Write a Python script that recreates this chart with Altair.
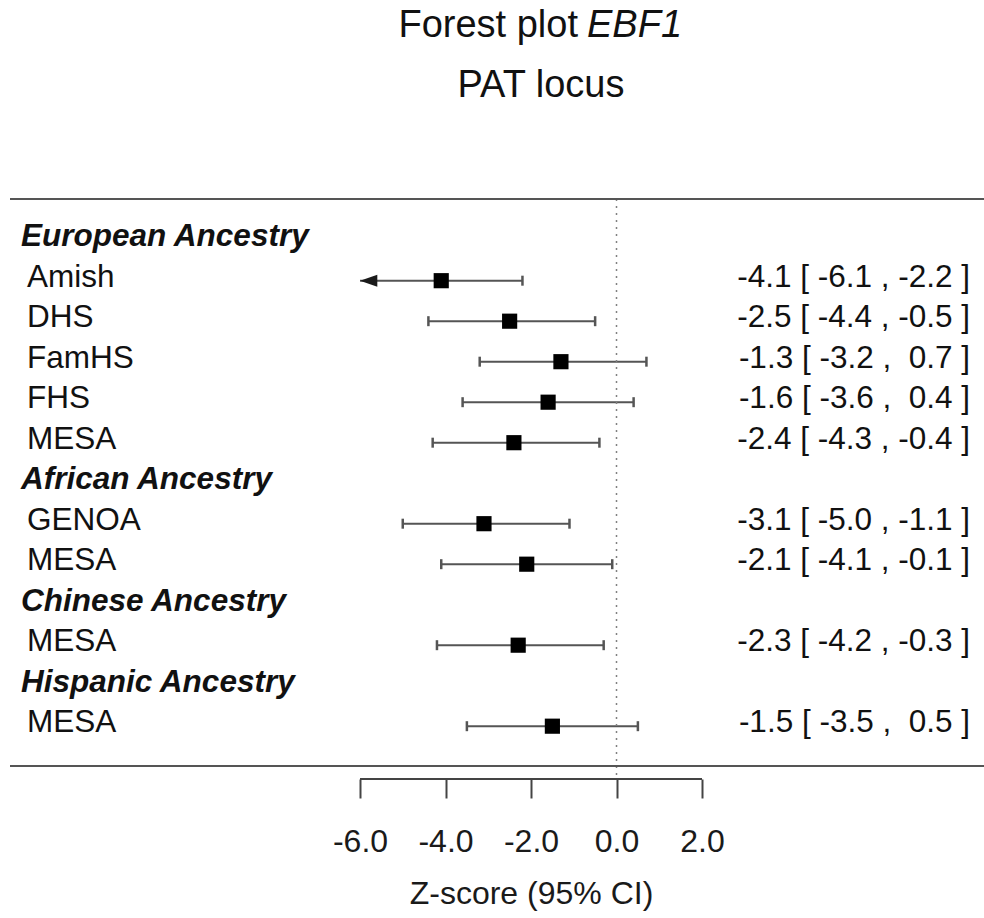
import altair as alt
import pandas as pd

# ---- data -------------------------------------------------------------
labels = ["European Ancestry", "Amish", "DHS", "FamHS", "FHS", "MESA",
          "African Ancestry", "GENOA", "MESA",
          "Chinese Ancestry", "MESA",
          "Hispanic Ancestry", "MESA"]
is_header = [True, False, False, False, False, False,
             True, False, False,
             True, False,
             True, False]
est = [None, -4.1, -2.5, -1.3, -1.6, -2.4, None, -3.1, -2.1, None, -2.3, None, -1.5]
lo = [None, -6.1, -4.4, -3.2, -3.6, -4.3, None, -5.0, -4.1, None, -4.2, None, -3.5]
hi = [None, -2.2, -0.5, 0.7, 0.4, -0.4, None, -1.1, -0.1, None, -0.3, None, 0.5]

tick_values = [-6, -4, -2, 0, 2]
x_title = "Z-score (95% CI)"
title_main = "Forest plot"
title_gene = "EBF1"
subtitle = "PAT locus"
clip_low = -6  # left limit of the drawn interval range

# ---- tables -----------------------------------------------------------
df = pd.DataFrame({"row": list(range(len(labels))), "label": labels,
                   "header": is_header, "est": est, "lo": lo, "hi": hi})
heads = df[df["header"]].copy()
studies = df[~df["header"]].copy()


def fmt(v):
    s = f"{v:4.1f}"
    return s.replace(" ", "\u00a0")


studies["ci_text"] = [f"{e:.1f} [ {fmt(l)} , {fmt(h)} ]"
                      for e, l, h in zip(studies["est"], studies["lo"], studies["hi"])]
one = pd.DataFrame({"k": [0]})
zero_df = pd.DataFrame({"x": [0]})
axis_span = pd.DataFrame({"a": [min(tick_values)], "b": [max(tick_values)]})

# ---- scales / axis ----------------------------------------------------
FONT = "Liberation Sans"
W, H = 974, 567
LINE = "#555555"
TEXT = "#111111"
x_scale = alt.Scale(domain=[-14.187, 8.596], nice=False, zero=False)
y_scale = alt.Scale(domain=[-1.017, 12.983], nice=False, zero=False, reverse=True)

x_axis = alt.Axis(values=tick_values, grid=False, domain=False,
                  labelExpr="replace(format(datum.value, '.1f'), '\u2212', '-')",
                  tickSize=19, tickWidth=2, tickColor="#444444", offset=13,
                  labelPadding=43, labelBaseline="middle", labelFont=FONT,
                  labelFontSize=32, labelColor="#1a1a1a",
                  title=x_title, titleFont=FONT, titleFontSize=32,
                  titleFontWeight="normal", titleColor="#1a1a1a",
                  titleX=521, titleY=114, titleBaseline="middle", titleAlign="center",
                  titleAnchor="start")


def X(field):
    return alt.X(field, type="quantitative", scale=x_scale, axis=x_axis)


Y = alt.Y("row:Q", scale=y_scale, axis=None)

# ---- layers -----------------------------------------------------------
ci_line = (alt.Chart(studies)
           .transform_calculate(lo_draw=f"max(datum.lo, {clip_low})")
           .mark_rule(color=LINE, strokeWidth=2)
           .encode(x=X("lo_draw"), x2="hi:Q", y=Y))

caps = (alt.Chart(studies)
        .transform_fold(["lo", "hi"], as_=["end", "val"])
        .transform_filter(f"datum.val >= {clip_low}")
        .mark_point(shape="M0,-1L0,1", size=100, filled=False,
                    color=LINE, strokeWidth=2.5, opacity=1)
        .encode(x=X("val"), y=Y))

arrow = (alt.Chart(studies)
         .transform_filter(f"datum.lo < {clip_low}")
         .transform_calculate(lo_draw=f"max(datum.lo, {clip_low})")
         .mark_point(shape="M0,0L2,-0.7L2,0.7Z", size=300, filled=True,
                     color="#1a1a1a", opacity=1)
         .encode(x=X("lo_draw"), y=Y))

squares = (alt.Chart(studies)
           .mark_point(shape="square", size=230, filled=True, color="black", opacity=1)
           .encode(x=X("est"), y=Y))

zero_line = (alt.Chart(zero_df)
             .mark_rule(color="#808080", strokeWidth=1.5, strokeDash=[2, 5])
             .encode(x=X("x"), y=alt.value(0), y2=alt.value(H + 9)))

frame = (alt.Chart(pd.DataFrame({"edge": [0, H]}))
         .mark_rule(color="#555555", strokeWidth=2)
         .encode(y=alt.Y("edge:Q", scale=None), x=alt.value(0), x2=alt.value(W)))

axis_line = (alt.Chart(axis_span)
             .mark_rule(color="#444444", strokeWidth=2)
             .encode(x=X("a"), x2="b:Q", y=alt.value(H + 13)))

head_text = (alt.Chart(heads)
             .mark_text(align="left", baseline="middle", font=FONT, fontSize=31.5,
                        fontWeight="bold", fontStyle="italic", color=TEXT, dy=-3)
             .encode(x=alt.value(11), y=Y, text="label:N"))

study_text = (alt.Chart(studies)
              .mark_text(align="left", baseline="middle", font=FONT, fontSize=31.5,
                         color=TEXT, dy=-3)
              .encode(x=alt.value(17), y=Y, text="label:N"))

ci_text = (alt.Chart(studies)
           .mark_text(align="right", baseline="middle", font=FONT, fontSize=31.5,
                      color=TEXT, dy=-3)
           .encode(x=alt.value(960), y=Y, text="ci_text:N"))

t1 = (alt.Chart(one).mark_text(text=title_main, align="right", baseline="middle",
                               font=FONT, fontSize=38, color=TEXT)
      .encode(x=alt.value(568), y=alt.value(-173)))
t2 = (alt.Chart(one).mark_text(text=title_gene, align="left", baseline="middle",
                               font=FONT, fontSize=38, fontStyle="italic", color=TEXT)
      .encode(x=alt.value(577), y=alt.value(-173)))
t3 = (alt.Chart(one).mark_text(text=subtitle, align="center", baseline="middle",
                               font=FONT, fontSize=38, color=TEXT)
      .encode(x=alt.value(531), y=alt.value(-113)))

chart = (alt.layer(ci_line, zero_line, frame, axis_line, caps, arrow, squares,
                   head_text, study_text, ci_text, t1, t2, t3)
         .properties(width=W, height=H,
                     padding={"left": 10, "top": 199, "right": 0, "bottom": 152},
                     autosize=alt.AutoSizeParams(type="none"),
                     background="white")
         .configure_view(stroke=None))

chart.save("out.html", embed_options={"renderer": "svg", "actions": False})
